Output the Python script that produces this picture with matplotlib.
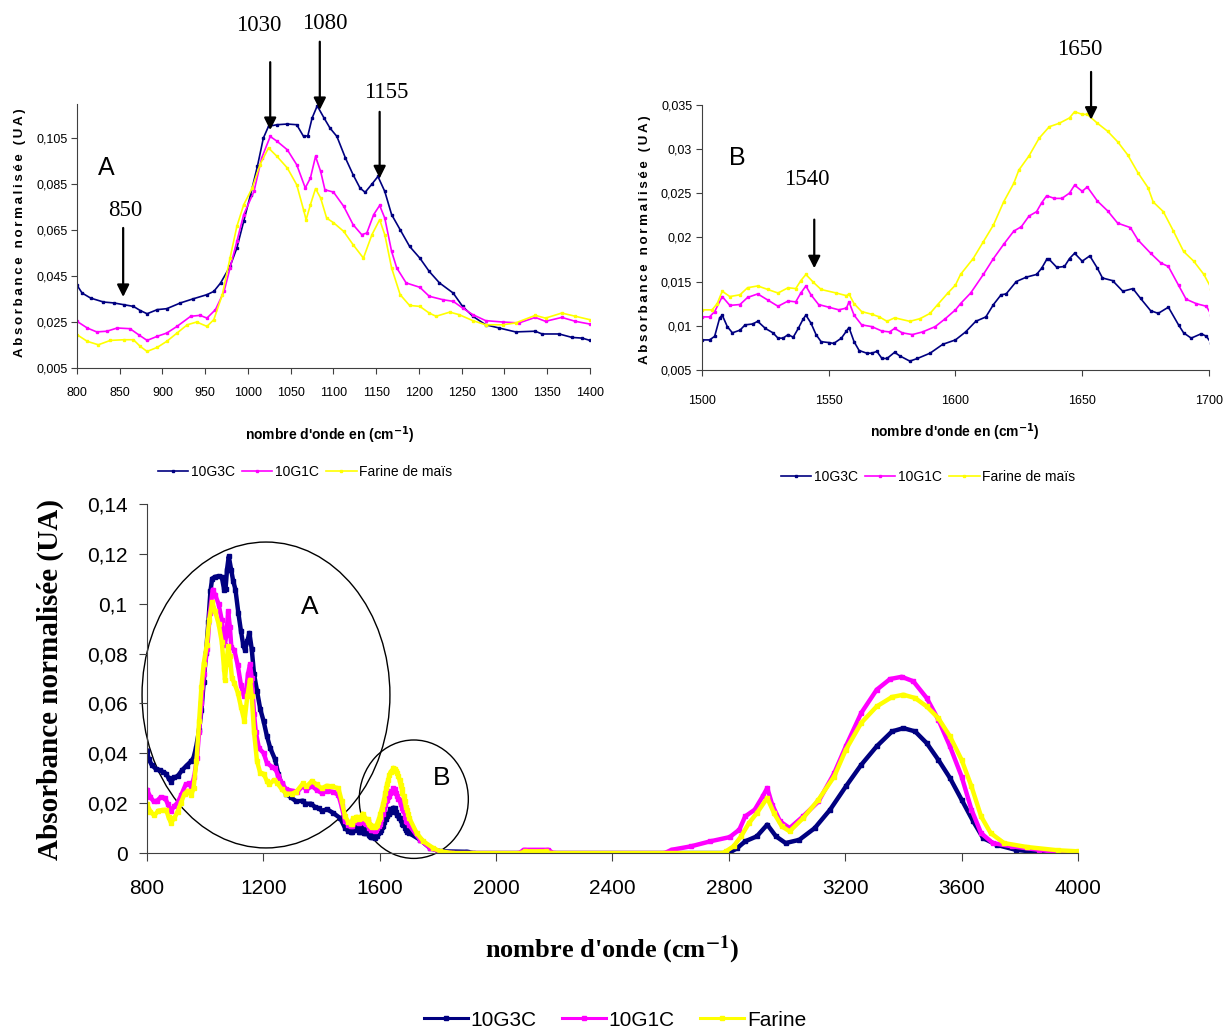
import matplotlib
matplotlib.use("Agg")
import matplotlib.pyplot as plt
from matplotlib.patches import Ellipse
from matplotlib.lines import Line2D

# FTIR spectra: wavenumber (cm-1) and normalised absorbance
wn_10g3c = [
    800, 806, 816, 831, 843, 855, 866, 874, 882, 894,
    905, 921, 936, 952, 960, 968, 979, 987, 995, 1003,
    1011, 1018, 1024, 1034, 1046, 1057, 1065, 1070, 1075, 1081,
    1089, 1096, 1104, 1114, 1123, 1131, 1137, 1145, 1152, 1160,
    1168, 1178, 1189, 1201, 1212, 1224, 1240, 1251, 1263, 1278,
    1294, 1313, 1336, 1344, 1364, 1379, 1391, 1400, 1420, 1441,
    1464, 1481, 1492, 1500, 1503, 1505, 1507, 1508, 1510, 1512,
    1515, 1517, 1520, 1522, 1525, 1528, 1530, 1532, 1534, 1536,
    1538, 1540, 1541, 1543, 1545, 1547, 1550, 1552, 1555, 1557,
    1558, 1560, 1562, 1565, 1567, 1569, 1571, 1573, 1576, 1578,
    1582, 1585, 1590, 1595, 1600, 1604, 1608, 1612, 1615, 1618,
    1620, 1624, 1628, 1632, 1634, 1636, 1637, 1640, 1643, 1645,
    1647, 1650, 1653, 1656, 1658, 1662, 1666, 1670, 1673, 1677,
    1680, 1684, 1688, 1690, 1693, 1697, 1699, 1701, 1739, 1773,
    1807, 1900, 1920, 2800, 2829, 2856, 2896, 2932, 2962, 2995,
    3042, 3095, 3148, 3202, 3255, 3308, 3361, 3400, 3440, 3480,
    3520, 3560, 3600, 3640, 3674, 3720, 3786, 3866, 3920, 4000,
]
abs_10g3c = [
    0.0410, 0.0376, 0.0354, 0.0337, 0.0333, 0.0325, 0.0318, 0.0300, 0.0286, 0.0304,
    0.0308, 0.0333, 0.0351, 0.0369, 0.0383, 0.0420, 0.0492, 0.0572, 0.0688, 0.0804,
    0.0927, 0.1050, 0.1101, 0.1108, 0.1111, 0.1108, 0.1057, 0.1060, 0.1137, 0.1190,
    0.1137, 0.1093, 0.1057, 0.0963, 0.0890, 0.0833, 0.0814, 0.0850, 0.0883, 0.0818,
    0.0717, 0.0651, 0.0579, 0.0528, 0.0470, 0.0420, 0.0376, 0.0318, 0.0275, 0.0238,
    0.0224, 0.0207, 0.0210, 0.0198, 0.0198, 0.0183, 0.0180, 0.0170, 0.0175, 0.0160,
    0.0140, 0.0100, 0.0088, 0.0084, 0.0084, 0.0088, 0.0109, 0.0112, 0.0099, 0.0092,
    0.0095, 0.0101, 0.0102, 0.0105, 0.0097, 0.0092, 0.0086, 0.0086, 0.0090, 0.0087,
    0.0097, 0.0108, 0.0112, 0.0103, 0.0090, 0.0082, 0.0081, 0.0080, 0.0086, 0.0094,
    0.0098, 0.0082, 0.0072, 0.0069, 0.0069, 0.0071, 0.0063, 0.0063, 0.0070, 0.0066,
    0.0060, 0.0063, 0.0069, 0.0079, 0.0084, 0.0093, 0.0105, 0.0110, 0.0124, 0.0135,
    0.0136, 0.0150, 0.0155, 0.0158, 0.0165, 0.0175, 0.0175, 0.0166, 0.0167, 0.0176,
    0.0182, 0.0173, 0.0179, 0.0165, 0.0154, 0.0151, 0.0139, 0.0142, 0.0131, 0.0117,
    0.0114, 0.0121, 0.0101, 0.0092, 0.0086, 0.0091, 0.0088, 0.0080, 0.0053, 0.0020,
    0.0007, 0.0005, 0.0000, 0.0000, 0.0020, 0.0047, 0.0067, 0.0114, 0.0067, 0.0040,
    0.0053, 0.0100, 0.0174, 0.0267, 0.0354, 0.0428, 0.0488, 0.0501, 0.0488, 0.0441,
    0.0374, 0.0301, 0.0214, 0.0127, 0.0060, 0.0033, 0.0013, 0.0003, 0.0000, 0.0000,
]

wn_10g1c = [
    800, 812, 823, 835, 847, 862, 872, 882, 894, 905,
    917, 933, 944, 952, 962, 972, 979, 987, 995, 1007,
    1016, 1026, 1034, 1046, 1057, 1067, 1073, 1079, 1085, 1090,
    1100, 1112, 1123, 1133, 1139, 1147, 1154, 1160, 1168, 1174,
    1185, 1201, 1212, 1228, 1240, 1251, 1263, 1278, 1298, 1317,
    1336, 1348, 1367, 1383, 1400, 1420, 1440, 1458, 1469, 1481,
    1492, 1500, 1503, 1505, 1508, 1511, 1515, 1518, 1522, 1526,
    1530, 1534, 1537, 1539, 1541, 1543, 1546, 1550, 1554, 1557,
    1558, 1560, 1563, 1567, 1571, 1574, 1576, 1579, 1583, 1587,
    1592, 1596, 1600, 1602, 1606, 1611, 1615, 1619, 1623, 1626,
    1629, 1632, 1634, 1636, 1639, 1642, 1645, 1647, 1650, 1652,
    1656, 1660, 1664, 1669, 1672, 1677, 1681, 1684, 1688, 1691,
    1695, 1699, 1701, 1739, 1773, 1810, 1850, 2080, 2095, 2180,
    2195, 2580, 2603, 2670, 2736, 2803, 2836, 2856, 2889, 2916,
    2932, 2949, 2976, 3009, 3055, 3108, 3162, 3202, 3255, 3308,
    3354, 3394, 3434, 3480, 3520, 3560, 3600, 3634, 3667, 3707,
    3773, 3866, 3933, 4000,
]
abs_10g1c = [
    0.0253, 0.0224, 0.0207, 0.0210, 0.0224, 0.0221, 0.0195, 0.0170, 0.0188, 0.0202,
    0.0231, 0.0275, 0.0279, 0.0267, 0.0304, 0.0383, 0.0485, 0.0601, 0.0717, 0.0818,
    0.0963, 0.1057, 0.1036, 0.0999, 0.0934, 0.0833, 0.0876, 0.0970, 0.0905, 0.0825,
    0.0815, 0.0753, 0.0673, 0.0630, 0.0637, 0.0717, 0.0757, 0.0702, 0.0557, 0.0485,
    0.0420, 0.0401, 0.0362, 0.0347, 0.0340, 0.0311, 0.0282, 0.0256, 0.0250, 0.0246,
    0.0270, 0.0253, 0.0270, 0.0253, 0.0241, 0.0250, 0.0245, 0.0233, 0.0187, 0.0127,
    0.0113, 0.0110, 0.0110, 0.0116, 0.0133, 0.0123, 0.0124, 0.0132, 0.0136, 0.0129,
    0.0122, 0.0128, 0.0127, 0.0137, 0.0145, 0.0135, 0.0124, 0.0121, 0.0118, 0.0120,
    0.0127, 0.0112, 0.0101, 0.0099, 0.0094, 0.0093, 0.0097, 0.0092, 0.0090, 0.0093,
    0.0099, 0.0108, 0.0118, 0.0125, 0.0137, 0.0158, 0.0176, 0.0192, 0.0207, 0.0212,
    0.0224, 0.0229, 0.0239, 0.0247, 0.0244, 0.0244, 0.0250, 0.0259, 0.0252, 0.0257,
    0.0241, 0.0230, 0.0216, 0.0211, 0.0197, 0.0182, 0.0171, 0.0167, 0.0146, 0.0130,
    0.0125, 0.0122, 0.0112, 0.0053, 0.0020, 0.0005, 0.0000, 0.0000, 0.0013, 0.0013,
    0.0000, 0.0000, 0.0013, 0.0027, 0.0047, 0.0064, 0.0094, 0.0147, 0.0174, 0.0227,
    0.0261, 0.0194, 0.0127, 0.0100, 0.0147, 0.0207, 0.0320, 0.0428, 0.0562, 0.0655,
    0.0698, 0.0707, 0.0689, 0.0622, 0.0535, 0.0428, 0.0307, 0.0174, 0.0080, 0.0040,
    0.0027, 0.0013, 0.0003, 0.0000,
]

wn_farine = [
    800, 812, 825, 839, 855, 866, 874, 882, 894, 905,
    917, 929, 940, 952, 960, 970, 979, 987, 995, 1005,
    1014, 1024, 1034, 1046, 1057, 1065, 1068, 1073, 1079, 1085,
    1092, 1100, 1112, 1123, 1135, 1145, 1154, 1160, 1168, 1178,
    1189, 1201, 1212, 1220, 1236, 1247, 1263, 1278, 1298, 1313,
    1336, 1348, 1367, 1383, 1400, 1418, 1435, 1458, 1469, 1481,
    1492, 1500, 1504, 1506, 1508, 1511, 1515, 1518, 1522, 1526,
    1530, 1534, 1537, 1539, 1541, 1544, 1547, 1553, 1557, 1558,
    1560, 1563, 1567, 1570, 1573, 1576, 1582, 1586, 1590, 1593,
    1597, 1600, 1602, 1607, 1611, 1615, 1619, 1623, 1625, 1629,
    1633, 1637, 1641, 1645, 1647, 1650, 1652, 1656, 1660, 1664,
    1668, 1672, 1676, 1678, 1682, 1686, 1690, 1694, 1698, 1701,
    1727, 1750, 1784, 1807, 1850, 2085, 2100, 2170, 2185, 2780,
    2790, 2816, 2842, 2869, 2896, 2932, 2955, 2982, 3009, 3055,
    3108, 3162, 3202, 3255, 3308, 3361, 3400, 3440, 3480, 3520,
    3560, 3600, 3634, 3667, 3700, 3746, 3826, 3932, 4000,
]
abs_farine = [
    0.0195, 0.0166, 0.0151, 0.0170, 0.0173, 0.0173, 0.0144, 0.0122, 0.0140, 0.0166,
    0.0202, 0.0238, 0.0250, 0.0231, 0.0260, 0.0369, 0.0528, 0.0666, 0.0760, 0.0833,
    0.0934, 0.1007, 0.0970, 0.0920, 0.0847, 0.0738, 0.0695, 0.0760, 0.0830, 0.0789,
    0.0702, 0.0682, 0.0644, 0.0586, 0.0528, 0.0630, 0.0695, 0.0630, 0.0485, 0.0369,
    0.0322, 0.0318, 0.0289, 0.0275, 0.0293, 0.0282, 0.0256, 0.0238, 0.0238, 0.0246,
    0.0279, 0.0267, 0.0289, 0.0275, 0.0260, 0.0270, 0.0267, 0.0260, 0.0210, 0.0147,
    0.0125, 0.0118, 0.0118, 0.0125, 0.0139, 0.0133, 0.0135, 0.0143, 0.0145, 0.0141,
    0.0137, 0.0143, 0.0142, 0.0151, 0.0158, 0.0149, 0.0141, 0.0137, 0.0134, 0.0136,
    0.0125, 0.0116, 0.0113, 0.0110, 0.0105, 0.0109, 0.0105, 0.0108, 0.0114, 0.0124,
    0.0137, 0.0146, 0.0158, 0.0176, 0.0195, 0.0214, 0.0240, 0.0261, 0.0276, 0.0292,
    0.0312, 0.0325, 0.0329, 0.0335, 0.0342, 0.0339, 0.0339, 0.0329, 0.0320, 0.0308,
    0.0293, 0.0273, 0.0256, 0.0240, 0.0229, 0.0207, 0.0184, 0.0173, 0.0158, 0.0142,
    0.0080, 0.0047, 0.0020, 0.0007, 0.0000, 0.0000, 0.0007, 0.0007, 0.0000, 0.0000,
    0.0007, 0.0027, 0.0067, 0.0120, 0.0160, 0.0221, 0.0160, 0.0107, 0.0087, 0.0140,
    0.0214, 0.0307, 0.0414, 0.0522, 0.0588, 0.0626, 0.0635, 0.0622, 0.0588, 0.0541,
    0.0468, 0.0374, 0.0267, 0.0147, 0.0080, 0.0040, 0.0024, 0.0011, 0.0007,
]

names_top = ["10G3C", "10G1C", "Farine de maïs"]
names_bottom = ["10G3C", "10G1C", "Farine"]
colors = ["#000080", "#FF00FF", "#FFFF00"]
series = [(wn_10g3c, abs_10g3c), (wn_10g1c, abs_10g1c), (wn_farine, abs_farine)]

ticks_A_x = list(range(800, 1401, 50))
ticks_A_y = [0.005, 0.025, 0.045, 0.065, 0.085, 0.105]
ticks_B_x = [1500, 1550, 1600, 1650, 1700]
ticks_B_y = [0.005, 0.01, 0.015, 0.02, 0.025, 0.03, 0.035]
ticks_C_x = list(range(800, 4001, 400))
ticks_C_y = [0, 0.02, 0.04, 0.06, 0.08, 0.1, 0.12, 0.14]

plt.rcParams["font.family"] = ["Liberation Sans", "DejaVu Sans"]
SERIF = ["Liberation Serif", "DejaVu Serif"]


def comma(v):
    return f"{round(v, 4):g}".replace(".", ",")


def setup(ax, xt, yt, size, xpad, ypad, tlen):
    ax.spines["top"].set_visible(False)
    ax.spines["right"].set_visible(False)
    for s in ["left", "bottom"]:
        ax.spines[s].set_color("#404040")
    ax.set_xticks(xt)
    ax.set_xticklabels([str(v) for v in xt], fontsize=size)
    ax.set_yticks(yt)
    ax.set_yticklabels([comma(v) for v in yt], fontsize=size)
    ax.tick_params(axis="x", direction="out", length=tlen, pad=xpad, color="#404040")
    ax.tick_params(axis="y", direction="out", length=tlen, pad=ypad, color="#404040")


def arrow(ax, x, y_tip, y_start):
    ax.annotate("", xy=(x, y_tip), xytext=(x, y_start),
                arrowprops=dict(arrowstyle="-|>", color="black", lw=1.6,
                                mutation_scale=18, shrinkA=0, shrinkB=0),
                annotation_clip=False)


fig = plt.figure(figsize=(12.24, 10.32), dpi=100)
spaced_label = "\u2009".join("Absorbance normalisée (UA)")

## panel A : 800-1400
axA = fig.add_axes([0.0629, 0.6434, 0.4191, 0.2558])
for (x, y), c in zip(series, colors):
    axA.plot(x, y, color=c, lw=1.2, marker="s", ms=1.8)
axA.set_xlim(800, 1400)
axA.set_ylim(0.005, 0.1198)
setup(axA, ticks_A_x, ticks_A_y, 9, 10, 3, 4)
axA.text(834, 0.092, "A", fontsize=18, ha="center", va="center")
for x, ytip, ystart, lab, xt, yt in [
        (854, 0.0359, 0.0659, "850", 856, 0.0733),
        (1026, 0.1085, 0.138, "1030", 1013, 0.154),
        (1084, 0.1172, 0.1469, "1080", 1090, 0.155),
        (1154, 0.0875, 0.1164, "1155", 1162, 0.125)]:
    arrow(axA, x, ytip, ystart)
    axA.text(xt, yt, lab, family=SERIF, fontsize=16.5, ha="center", va="center",
             clip_on=False)
fig.text(20 / 1224, 1 - 233 / 1032, spaced_label, rotation=90, ha="center",
         va="center", fontsize=9.6, fontweight="bold")
fig.text(330 / 1224, 1 - 435 / 1032, "nombre d'onde en (cm$^{\\mathbf{-1}}$)",
         ha="center", va="center", fontsize=10, fontweight="bold")

## panel B : 1500-1700
axB = fig.add_axes([0.5735, 0.6415, 0.4142, 0.2571])
for (x, y), c in zip(series, colors):
    axB.plot(x, y, color=c, lw=1.2, marker="s", ms=1.8)
axB.set_xlim(1500, 1700)
axB.set_ylim(0.005, 0.035)
setup(axB, ticks_B_x, ticks_B_y, 9, 14, 3, 4)
axB.text(1514, 0.029, "B", fontsize=18, ha="center", va="center")
arrow(axB, 1544.3, 0.0165, 0.0220)
axB.text(1541.3, 0.0265, "1540", family=SERIF, fontsize=16.5, ha="center", va="center")
arrow(axB, 1653.5, 0.0333, 0.0387)
axB.text(1649, 0.0412, "1650", family=SERIF, fontsize=16.5, ha="center", va="center",
         clip_on=False)
fig.text(645 / 1224, 1 - 240 / 1032, spaced_label, rotation=90, ha="center",
         va="center", fontsize=9.6, fontweight="bold")
fig.text(955 / 1224, 1 - 432 / 1032, "nombre d'onde en (cm$^{\\mathbf{-1}}$)",
         ha="center", va="center", fontsize=10, fontweight="bold")

# small legends under the top panels
top_handles = [Line2D([], [], color=c, lw=1.2, marker="s", ms=2) for c in colors]
for cx, cy in [(305, 472), (928, 477)]:
    fig.legend(top_handles, names_top, loc="center",
               bbox_to_anchor=(cx / 1224, 1 - cy / 1032), ncol=3, frameon=False,
               fontsize=10, handlelength=2.2, handletextpad=0.2, columnspacing=0.5)

## full spectrum
axC = fig.add_axes([0.1201, 0.1734, 0.7606, 0.3382])
for (x, y), c in zip(series, colors):
    axC.plot(x, y, color=c, lw=3.2, marker="s", ms=3)
axC.set_xlim(800, 4000)
axC.set_ylim(0, 0.14)
setup(axC, ticks_C_x, ticks_C_y, 15, 13, 8, 6)
axC.add_patch(Ellipse((1209, 0.0634), 852, 0.1227, fill=False, ec="black", lw=1,
                      clip_on=False))
axC.add_patch(Ellipse((1717, 0.0216), 375, 0.0475, fill=False, ec="black", lw=1,
                      clip_on=False))
axC.text(1360, 0.0987, "A", fontsize=19, ha="center", va="center")
axC.text(1811, 0.030, "B", fontsize=19, ha="center", va="center")
fig.text(50 / 1224, 1 - 680 / 1032, "Absorbance normalisée (UA)", rotation=90,
         ha="center", va="center", family=SERIF, fontsize=21, fontweight="bold")
fig.text(612 / 1224, 1 - 950 / 1032, "nombre d'onde (cm$^{\\mathbf{-1}}$)",
         ha="center", va="center", family=SERIF, fontsize=19, fontweight="bold",
         math_fontfamily="stix")

bottom_handles = [Line2D([], [], color=c, lw=2.2, marker="s", ms=3) for c in colors]
fig.legend(bottom_handles, names_bottom, loc="center",
           bbox_to_anchor=(615 / 1224, 1 - 1020 / 1032), ncol=3, frameon=False,
           fontsize=15, handlelength=2.1, handletextpad=0.15, columnspacing=1.2)

plt.savefig("out.png", dpi=100)
